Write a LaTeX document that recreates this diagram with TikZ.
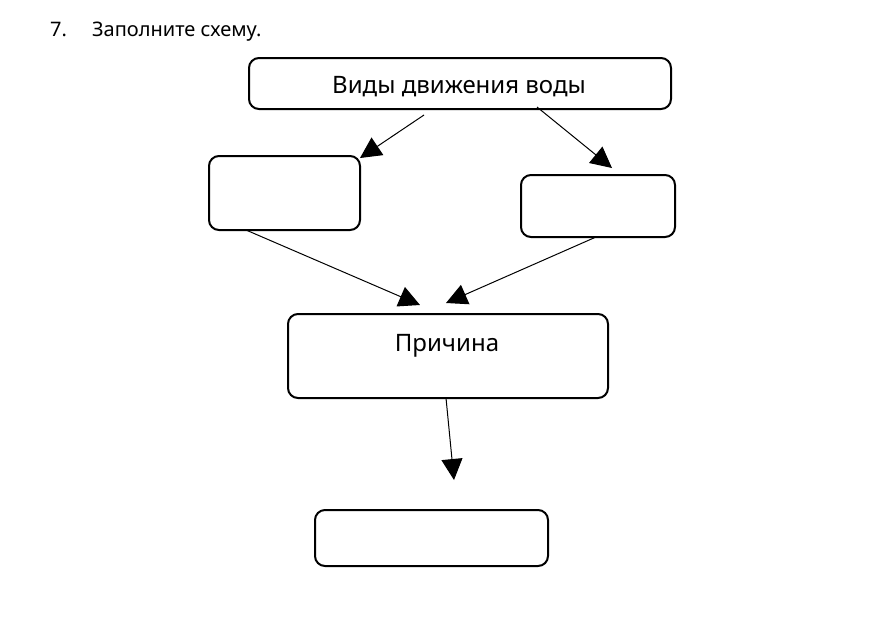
\documentclass[tikz,border=0pt]{standalone}
\usepackage{fontspec}
\setmainfont{Noto Sans}
\usetikzlibrary{arrows.meta}
\begin{document}
\begin{tikzpicture}[x=1pt,y=-1pt,
  box/.style={draw,line width=2pt,rounded corners=10pt,inner sep=0pt,anchor=north west},
  conn/.style={line width=1pt,-{Triangle[length=21pt,width=21pt]}},
  lbl/.style={inner sep=0pt,font=\fontsize{24}{28}\selectfont}]
\useasboundingbox (0,0) rectangle (896,641);
\node[inner sep=0pt,anchor=base west,font=\fontsize{20}{24}\selectfont] (num) at (50,36) {7.};
\node[inner sep=0pt,anchor=base west,font=\fontsize{20}{24}\selectfont] (task) at (92,36) {Заполните схему.};
\node[box,minimum width=422pt,minimum height=51pt] (top) at (248,57) {};
\node[lbl] (toptext) at (459,87) {Виды движения воды};
\node[box,minimum width=151pt,minimum height=74pt] (left) at (208,155) {};
\node[box,minimum width=154pt,minimum height=62pt] (right) at (520,174) {};
\node[box,minimum width=320pt,minimum height=84pt] (mid) at (287,313) {};
\node[lbl] (midtext) at (447,346) {Причина};
\node[box,minimum width=233pt,minimum height=56pt] (bot) at (314,509) {};
\coordinate (a1) at (424,115);
\coordinate (a1e) at (360,158);
\coordinate (a2) at (537,107);
\coordinate (a2e) at (612,168);
\coordinate (a3) at (246,230);
\coordinate (a3e) at (420,305);
\coordinate (a4) at (596,237);
\coordinate (a4e) at (446,303);
\coordinate (a5) at (446,398);
\coordinate (a5e) at (454,480);
\draw[conn] (a1) -- (a1e);
\draw[conn] (a2) -- (a2e);
\draw[conn] (a3) -- (a3e);
\draw[conn] (a4) -- (a4e);
\draw[conn] (a5) -- (a5e);
\end{tikzpicture}
\end{document}
